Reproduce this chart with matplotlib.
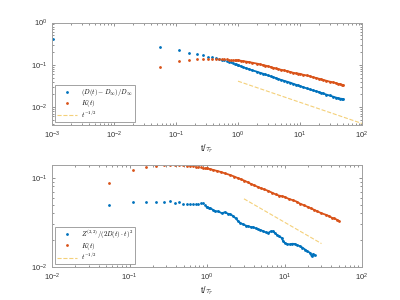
import matplotlib
matplotlib.use("Agg")
import matplotlib.pyplot as plt
from matplotlib.ticker import LogLocator, NullFormatter, FuncFormatter
import math

plt.rcParams['mathtext.fontset'] = 'cm'
plt.rcParams['font.family'] = ['Liberation Sans', 'DejaVu Sans']

BLUE = '#0072BD'
RED = '#D95319'
YEL = '#EDB120'

# ---- data ----
t_short = [0.055, 0.11, 0.165, 0.22, 0.275, 0.33, 0.385, 0.44, 0.495, 0.55,
           0.605, 0.66, 0.715, 0.77, 0.825, 0.88, 0.935, 0.99]
t_long = [1.1, 1.2, 1.35, 1.5, 1.7, 2.0, 2.25, 2.5, 2.75, 3.0, 3.35, 3.7, 4.1, 4.5,
          5.0, 5.5, 6.2, 6.9, 7.7, 8.5, 9.3, 10.0, 11.3, 12.8, 14.3, 16.0, 18.0,
          20.0, 21.8, 23.7, 26.5, 30.0, 34.0, 38.0, 41.0, 44.0, 47.0, 50.0]

t_first = [0.00105]
D_first = [0.41]
D_short = [0.26, 0.22, 0.193, 0.178, 0.166, 0.157, 0.150, 0.144, 0.138, 0.133,
           0.128, 0.123, 0.118, 0.114, 0.110, 0.106, 0.102, 0.098]
D_long = [0.093, 0.088, 0.083, 0.079, 0.074, 0.069, 0.065, 0.062, 0.059, 0.0565,
          0.0535, 0.051, 0.0485, 0.046, 0.0438, 0.042, 0.0398, 0.038, 0.0358,
          0.034, 0.0326, 0.0315, 0.0295, 0.0278, 0.0263, 0.025, 0.0238, 0.0228,
          0.0218, 0.021, 0.0198, 0.0188, 0.0177, 0.0168, 0.0163, 0.0159, 0.0157,
          0.0155]

K_short = [0.087, 0.122, 0.133, 0.136, 0.138, 0.138, 0.138, 0.137, 0.137, 0.136,
           0.135, 0.134, 0.133, 0.132, 0.131, 0.130, 0.128, 0.127]
K_long = [0.125, 0.122, 0.119, 0.116, 0.112, 0.107, 0.103, 0.099, 0.096, 0.093,
          0.089, 0.085, 0.082, 0.079, 0.076, 0.074, 0.071, 0.068, 0.065, 0.063,
          0.062, 0.061, 0.058, 0.056, 0.054, 0.051, 0.049, 0.047, 0.0455, 0.044,
          0.042, 0.040, 0.0385, 0.037, 0.0355, 0.035, 0.034, 0.033]

t_Z = [0.055, 0.11, 0.165, 0.22, 0.275, 0.33, 0.385, 0.44, 0.495, 0.55, 0.605,
       0.66, 0.715, 0.77, 0.825, 0.88, 0.935, 0.99]
Z_short = [0.050, 0.054, 0.053, 0.053, 0.053, 0.055, 0.052, 0.054, 0.051, 0.0505,
           0.0505, 0.051, 0.051, 0.051, 0.052, 0.0515, 0.049, 0.047]
t_Z_long = [1.05, 1.1, 1.18, 1.27, 1.4, 1.55, 1.7, 1.88, 2.0, 2.19, 2.35, 2.53,
            2.7, 2.94, 3.2, 3.41, 3.7, 3.96, 4.3, 4.59, 4.9, 5.33, 5.7, 6.17,
            6.6, 7.16, 7.5, 7.9, 8.5, 9.19, 9.6, 10.1, 10.9, 11.7, 12.6, 13.6,
            14.6, 15.8, 17.0, 18.4, 19.8, 21.4, 22.4, 23.5, 24.5]
Z_long = [0.046, 0.0455, 0.044, 0.042, 0.042, 0.040, 0.041, 0.0394, 0.039, 0.037,
          0.035, 0.0326, 0.031, 0.030, 0.029, 0.0286, 0.028, 0.0279, 0.027,
          0.0263, 0.026, 0.0251, 0.0245, 0.0241, 0.025, 0.0251, 0.024, 0.0231,
          0.022, 0.0212, 0.0195, 0.0186, 0.018, 0.0179, 0.0182, 0.0181, 0.0176,
          0.0171, 0.0165, 0.0157, 0.015, 0.0144, 0.0132, 0.014, 0.0135]

guide_top_t = [1.0, 100.0]
guide_top_y = [0.041, 0.0041]
guide_bot_t = [3.0, 30.0]
guide_bot_y = [0.058, 0.0183]

# ---- figure ----
fig = plt.figure(figsize=(4, 3), dpi=100)
ax1 = fig.add_axes([0.13, 0.5838, 0.775, 0.3412])
ax2 = fig.add_axes([0.13, 0.11, 0.775, 0.3412])

ms = 2.0
lw_dense = 1.3

def fmt(v, pos):
    e = int(round(math.log10(v)))
    return r'$\mathregular{10^{%d}}$' % e

def style(ax):
    ax.set_xscale('log')
    ax.set_yscale('log')
    for s in ax.spines.values():
        s.set_color('#a0a0a0')
        s.set_linewidth(0.7)
    ax.tick_params(which='both', direction='in', top=True, right=True,
                   colors='#666666', labelcolor='#333333', labelsize=5.5,
                   width=0.5)
    ax.tick_params(which='major', length=2.5)
    ax.tick_params(which='minor', length=1.5)
    ax.xaxis.set_minor_locator(LogLocator(base=10, subs=range(2, 10), numticks=20))
    ax.yaxis.set_minor_locator(LogLocator(base=10, subs=range(2, 10), numticks=20))
    ax.xaxis.set_major_formatter(FuncFormatter(fmt))
    ax.yaxis.set_major_formatter(FuncFormatter(fmt))
    ax.xaxis.set_minor_formatter(NullFormatter())
    ax.yaxis.set_minor_formatter(NullFormatter())
    ax.set_xlabel(r'$\mathregular{t/}\tau_r$', fontsize=6.5, color='#333333',
                  labelpad=1)

def make_legend(ax):
    leg = ax.legend(loc='lower left', fontsize=4.8, frameon=True, fancybox=False,
                    handlelength=3.0, handletextpad=0.6, borderpad=0.3,
                    labelspacing=0.0, borderaxespad=0.5, handleheight=0.5)
    leg.get_frame().set_edgecolor('#8a8a8a')
    leg.get_frame().set_linewidth(0.7)
    return leg

# top panel
ax1.plot(t_first, D_first, '.', color=BLUE, ms=ms, clip_on=False)
ax1.plot(t_short, D_short, '.', color=BLUE, ms=ms, lw=0,
         label=r'$(D(t)-D_\infty)/D_\infty$')
ax1.plot(t_short[-1:] + t_long, D_short[-1:] + D_long, '.-', color=BLUE, ms=ms,
         lw=lw_dense)
ax1.plot(t_short, K_short, '.', color=RED, ms=ms, lw=0, label=r'$K(t)$')
ax1.plot(t_short[-1:] + t_long, K_short[-1:] + K_long, '.-', color=RED, ms=ms,
         lw=lw_dense)
ax1.plot(guide_top_t, guide_top_y, '--', color=YEL, lw=0.8, alpha=0.6,
         label=r'$t^{-1/2}$')
style(ax1)
ax1.set_xlim(1e-3, 1e2)
ax1.set_ylim(10 ** -2.42, 1)
make_legend(ax1)

# bottom panel
ax2.plot(t_Z, Z_short, '.', color=BLUE, ms=ms, lw=0,
         label=r'$Z^{(2,2)}/(2D(t)\cdot t)^2$')
ax2.plot(t_Z[-1:] + t_Z_long, Z_short[-1:] + Z_long, '.-', color=BLUE, ms=ms,
         lw=lw_dense)
ax2.plot(t_short, K_short, '.', color=RED, ms=ms, lw=0, label=r'$K(t)$')
ax2.plot(t_short[-1:] + t_long, K_short[-1:] + K_long, '.-', color=RED, ms=ms,
         lw=lw_dense)
ax2.plot(guide_bot_t, guide_bot_y, '--', color=YEL, lw=0.8, alpha=0.6,
         label=r'$t^{-1/2}$')
style(ax2)
ax2.set_xlim(1e-2, 1e2)
ax2.set_ylim(1e-2, 0.14)
make_legend(ax2)

fig.savefig('out.png', dpi=100, facecolor='white')
